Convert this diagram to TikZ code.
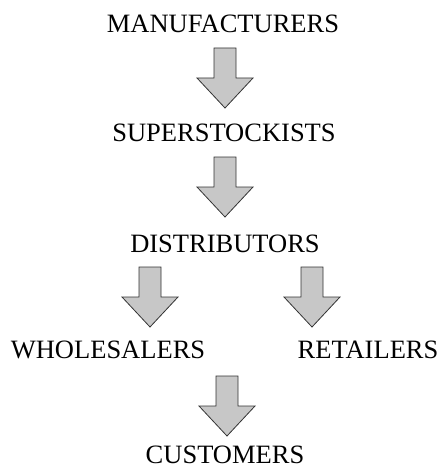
\documentclass[tikz,border=0pt]{standalone}
\usepackage{fontspec}
\setmainfont{Liberation Serif}
\usepackage{tikz}
\usetikzlibrary{positioning}

\tikzset{
  level/.style={font=\fontsize{26.5}{30}\selectfont,inner sep=0pt,anchor=base},
  fatarrow/.style={draw=black!80,fill=black!22,line width=0.8pt,line join=miter},
  downarrow/.pic={
    \draw[fatarrow] (-11pt,0) -- (11pt,0) -- (11pt,-30pt) -- (28pt,-30pt)
      -- (0,-60pt) -- (-28pt,-30pt) -- (-11pt,-30pt) -- cycle;
  }
}

\begin{document}
\begin{tikzpicture}[x=1pt,y=1pt]
\useasboundingbox (0,0) rectangle (440,-468);
% the chain of levels
\node[level] (manu) at (223,-33) {MANUFACTURERS};
\node[level] (super) at (224,-142) {SUPERSTOCKISTS};
\node[level] (dist) at (225,-252) {DISTRIBUTORS};
\node[level] (whole) at (108,-358) {WHOLESALERS};
\node[level] (retail) at (368,-358) {RETAILERS};
\node[level] (cust) at (225,-463.5) {CUSTOMERS};
% block arrows between them
\pic (a1) at (225,-48) {downarrow};
\pic (a2) at (225,-157) {downarrow};
\pic (a3) at (150,-267) {downarrow};
\pic (a4) at (312,-267) {downarrow};
\pic (a5) at (227,-376) {downarrow};
\end{tikzpicture}
\end{document}
